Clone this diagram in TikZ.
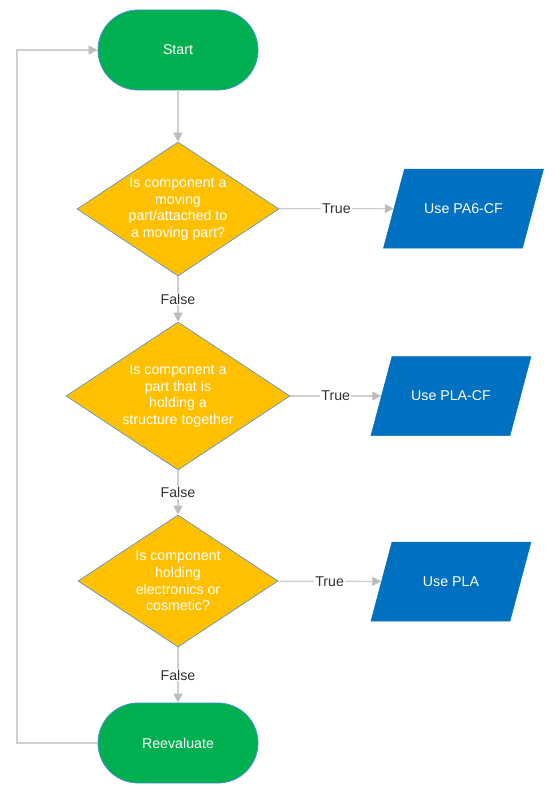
\documentclass[tikz,border=0pt]{standalone}
\usepackage{fontspec}
\setmainfont{Liberation Sans}
\usetikzlibrary{shapes.geometric,arrows.meta,calc}
\definecolor{termgreen}{HTML}{00B050}
\definecolor{decyellow}{HTML}{FFC000}
\definecolor{ioblue}{HTML}{0070C0}
\definecolor{edgeblue}{HTML}{4A8FD4}
\definecolor{linegray}{HTML}{CFCFCF}
\definecolor{tipgray}{HTML}{BDBDBD}
\definecolor{labelgray}{HTML}{333333}
\begin{document}
\begin{tikzpicture}[x=1pt,y=-1pt,
 font=\fontsize{14.2}{16.7}\selectfont,
 term/.style={rectangle, rounded corners=40pt, minimum width=160pt, minimum height=80pt, fill=termgreen, draw=edgeblue, line width=0.8pt, text=white, inner sep=0pt},
 decision/.style={diamond, fill=decyellow, draw=edgeblue, line width=0.6pt, inner sep=0pt},
 dtext/.style={text=white, align=center, inner sep=0pt},
 iobox/.style={rectangle, text=white, minimum width=139pt, minimum height=80pt, inner sep=0pt},
 iofill/.style={fill=ioblue, draw=ioblue, line width=0.5pt},
 conn/.style={draw=linegray, line width=1.2pt, -{Triangle[length=9pt,width=9pt,color=tipgray]}},
 lbl/.style={fill=white, text=labelgray, inner sep=1pt}
]
\useasboundingbox (0,0) rectangle (555,808);

\coordinate (c1) at (463.5,208.5);
\coordinate (c2) at (451,396);
\coordinate (c3) at (451,581.5);
\foreach \c in {c1,c2,c3}{
  \filldraw[iofill] ($(\c)+(-59,-39.5)$) -- ($(\c)+(80,-39.5)$) -- ($(\c)+(59,39.5)$) -- ($(\c)+(-80,39.5)$) -- cycle;
}

\node[term] (start) at (178,50) {Start};
\node[decision, minimum width=202pt, minimum height=134pt,
  label={[dtext]center:{Is component a\\moving\\part/attached to\\a moving part?}}] (d1) at (178,209) {};
\node[iobox] (p1) at (c1) {Use PA6-CF};
\node[decision, minimum width=224pt, minimum height=148pt,
  label={[dtext]center:{Is component a\\part that is\\holding a\\structure together}}] (d2) at (178,396) {};
\node[iobox] (p2) at (c2) {Use PLA-CF};
\node[decision, minimum width=200pt, minimum height=132pt,
  label={[dtext]center:{Is component\\holding\\electronics or\\cosmetic?}}] (d3) at (178,581) {};
\node[iobox] (p3) at (c3) {Use PLA};
\node[term] (reeval) at (178,743) {Reevaluate};

\coordinate (lc1) at (17,743);
\coordinate (lc2) at (17,50);

\draw[conn] (start) -- (d1);
\draw[conn] (d1) -- node[lbl]{False} (d2);
\draw[conn] (d2) -- node[lbl]{False} (d3);
\draw[conn] (d3) -- node[lbl]{False} (reeval);
\draw[conn] (d1) -- node[lbl]{True} (p1);
\draw[conn] (d2) -- node[lbl]{True} (p2);
\draw[conn] (d3) -- node[lbl]{True} (p3);
\draw[conn] (reeval.west) -- (lc1) -- (lc2) -- (start.west);
\end{tikzpicture}
\end{document}
